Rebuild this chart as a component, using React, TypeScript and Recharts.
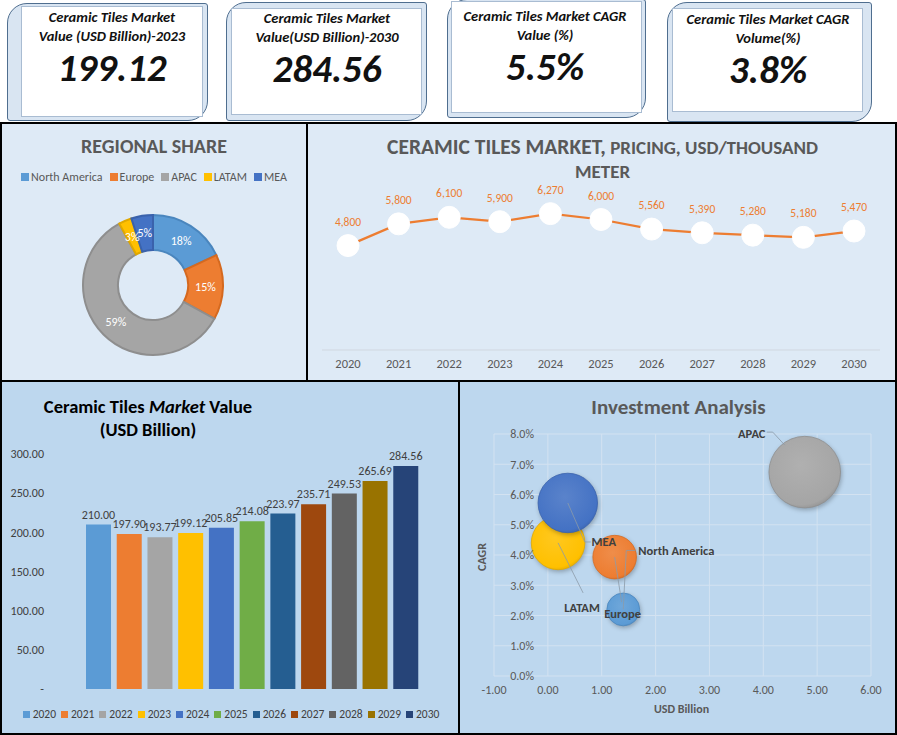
import React from 'react';
import {
  Bar,
  BarChart,
  CartesianGrid,
  Cell,
  LabelList,
  Line,
  LineChart,
  Pie,
  PieChart,
  Scatter,
  ScatterChart,
  XAxis,
  YAxis,
  ZAxis,
} from 'recharts';

// ---------------------------------------------------------------------------
// Data
// ---------------------------------------------------------------------------
const kpiTitles = [
  ['Ceramic Tiles Market', 'Value (USD Billion)-2023'],
  ['Ceramic Tiles Market', 'Value(USD Billion)-2030'],
  ['Ceramic Tiles Market  CAGR', 'Value (%)'],
  ['Ceramic Tiles Market CAGR', 'Volume(%)'],
];
const kpiValues = ['199.12', '284.56', '5.5%', '3.8%'];

const regions = ['North America', 'Europe', 'APAC', 'LATAM', 'MEA'];
const regionShare = [18, 15, 59, 3, 5];

const years = ['2020', '2021', '2022', '2023', '2024', '2025', '2026', '2027', '2028', '2029', '2030'];
const prices = [4800, 5800, 6100, 5900, 6270, 6000, 5560, 5390, 5280, 5180, 5470];
const marketValues = [210.0, 197.9, 193.77, 199.12, 205.85, 214.08, 223.97, 235.71, 249.53, 265.69, 284.56];

const valueTicks = [0, 50, 100, 150, 200, 250, 300];
const usdTicks = [-1, 0, 1, 2, 3, 4, 5, 6];
const cagrTicks = [0, 1, 2, 3, 4, 5, 6, 7, 8];

// investment bubbles, same region order as above
const bubbleUsd = [1.4, 1.24, 4.77, 0.19, 0.37];
const bubbleCagr = [2.2, 3.93, 6.74, 4.4, 5.72];
const bubbleSize = [21, 37, 100, 56, 69];

// ---------------------------------------------------------------------------
// Styling
// ---------------------------------------------------------------------------
const FONT = "Carlito, Calibri, Lato, 'Open Sans', sans-serif";
const REGION_COLORS = ['#5B9BD5', '#ED7D31', '#A5A5A5', '#FFC000', '#4472C4'];
const REGION_STROKES = ['#4A86BE', '#D5691F', '#8E8E8E', '#E0A800', '#3A62AC'];
const YEAR_COLORS = [
  '#5B9BD5', '#ED7D31', '#A5A5A5', '#FFC000', '#4472C4', '#70AD47',
  '#255E91', '#9E480E', '#636363', '#997300', '#264478',
];
const TITLE_GRAY = '#595959';
const TEXT_DARK = '#404040';
const TOP_BG = '#DEEAF6';
const BOTTOM_BG = '#BDD7EE';

// card boxes and text centres (page coordinates)
const CARDS = [
  { left: 7, top: 3, width: 201, height: 118, inner: [13, 2, 4, 3], cx: 112, ty: 8 },
  { left: 226, top: 2, width: 201, height: 119, inner: [4, 5, 4, 5], cx: 327, ty: 9 },
  { left: 447, top: -1, width: 199, height: 119, inner: [3, 1, 3, 4], cx: 545, ty: 7 },
  { left: 667, top: 2, width: 205, height: 120, inner: [4, 5, 8, 9], cx: 768, ty: 10 },
];

// bubble label offsets from the bubble centre, plus leader line points
const BUBBLE_LABELS: Record<string, { dx: number; dy: number; anchor: string; line: number[][] }> = {
  'North America': { dx: 15, dy: -59, anchor: 'start', line: [[0, 0], [3, -59], [12, -59]] },
  Europe: { dx: 8, dy: 56, anchor: 'middle', line: [[0, 0], [7, 45]] },
  APAC: { dx: -53, dy: -39, anchor: 'middle', line: [[-38, -40], [-32, -40], [-20, -27]] },
  LATAM: { dx: 24, dy: 65, anchor: 'middle', line: [[0, 0], [25, 50]] },
  MEA: { dx: 36, dy: 39, anchor: 'middle', line: [[0, 0], [17, 39], [23, 39]] },
};

const RAD = Math.PI / 180;

const withCommas = (v: number) => String(v).replace(/\B(?=(\d{3})+(?!\d))/g, ',');

function PieLabel(props: any) {
  const { cx, cy, midAngle, innerRadius, outerRadius, value } = props;
  const r = (innerRadius + outerRadius) / 2;
  const x = cx + r * Math.cos(-midAngle * RAD);
  const y = cy + r * Math.sin(-midAngle * RAD);
  return (
    <text x={x} y={y} fill="#fff" textAnchor="middle" dominantBaseline="central" fontSize={12} fontFamily={FONT}>
      {value}%
    </text>
  );
}

function BubbleShape(props: any) {
  const { cx, cy, index } = props;
  const r = props.width ? props.width / 2 : Math.sqrt((props.size || 64) / Math.PI);
  return (
    <circle
      cx={cx}
      cy={cy}
      r={r}
      fill={`url(#bubble-${index})`}
      stroke={REGION_STROKES[index]}
      strokeWidth={0.8}
      style={{ filter: 'drop-shadow(1px 2px 2px rgba(0,0,0,0.25))' }}
    />
  );
}

function BubbleLabel(props: any) {
  const { cx, cy, payload } = props;
  const spec = BUBBLE_LABELS[payload.name];
  const pts = spec.line.map(([x, y]) => `${cx + x},${cy + y}`).join(' ');
  return (
    <g>
      <polyline points={pts} fill="none" stroke="#8c9aa8" strokeWidth={0.8} />
      <text
        x={cx + spec.dx}
        y={cy + spec.dy}
        textAnchor={spec.anchor as any}
        dominantBaseline="central"
        fontSize={12.5}
        fontWeight={600}
        fill={TEXT_DARK}
        fontFamily={FONT}
      >
        {payload.name}
      </text>
    </g>
  );
}

function lighten(hex: string, amt: number) {
  const n = parseInt(hex.slice(1), 16);
  const ch = [(n >> 16) & 255, (n >> 8) & 255, n & 255].map((c) => Math.round(c + (255 - c) * amt));
  return `rgb(${ch[0]},${ch[1]},${ch[2]})`;
}

export default function App() {
  const pieData = regions.map((name, i) => ({ name, value: regionShare[i] }));
  const priceData = years.map((year, i) => ({ year, price: prices[i] }));
  const valueData = years.map((year, i) => ({ year, value: marketValues[i] }));
  const bubbleData = regions.map((name, i) => ({
    name,
    usd: bubbleUsd[i],
    cagr: bubbleCagr[i],
    size: bubbleSize[i],
  }));

  const abs = (s: React.CSSProperties): React.CSSProperties => ({ position: 'absolute', ...s });

  return (
    <div style={abs({ left: 0, top: 0, width: 897, height: 735, background: '#fff', overflow: 'hidden', fontFamily: FONT })}>
      {/* ---------------- KPI cards ---------------- */}
      {CARDS.map((c, i) => (
        <React.Fragment key={i}>
          <div
            style={abs({
              left: c.left,
              top: c.top,
              width: c.width,
              height: c.height,
              boxSizing: 'border-box',
              background: '#D9E5F2',
              border: '1px solid #4F6E8F',
              borderRadius: '20px 3px 20px 3px',
            })}
          >
            <div
              style={abs({
                left: c.inner[0],
                top: c.inner[1],
                right: c.inner[2],
                bottom: c.inner[3],
                background: '#fff',
                border: '1px solid #A9BCD2',
              })}
            />
          </div>
          <div style={abs({ left: c.cx - 110, top: c.ty, width: 220, textAlign: 'center', color: '#111', fontStyle: 'italic', fontWeight: 700 })}>
            <div style={{ fontSize: 14.5, lineHeight: '19px' }}>{kpiTitles[i][0]}</div>
            <div style={{ fontSize: 14.5, lineHeight: '19px' }}>{kpiTitles[i][1]}</div>
            <div style={{ fontSize: 39, lineHeight: '42px', marginTop: 1 }}>{kpiValues[i]}</div>
          </div>
        </React.Fragment>
      ))}

      {/* ---------------- panels ---------------- */}
      <div style={abs({ left: 0, top: 122, width: 308, height: 260, boxSizing: 'border-box', background: TOP_BG, border: '2px solid #000' })} />
      <div style={abs({ left: 307, top: 122, width: 590, height: 260, boxSizing: 'border-box', background: TOP_BG, border: '2px solid #000', borderLeft: '1px solid #000' })} />
      <div style={abs({ left: 0, top: 380, width: 460, height: 355, boxSizing: 'border-box', background: BOTTOM_BG, border: '2px solid #000' })} />
      <div style={abs({ left: 458, top: 380, width: 439, height: 355, boxSizing: 'border-box', background: BOTTOM_BG, border: '2px solid #000' })} />

      {/* ---------------- Regional share ---------------- */}
      <div style={abs({ left: 0, top: 134, width: 308, textAlign: 'center', fontSize: 20, fontWeight: 700, color: TITLE_GRAY, lineHeight: '24px' })}>
        REGIONAL SHARE
      </div>
      <div style={abs({ left: 0, top: 169, width: 308, display: 'flex', justifyContent: 'center', gap: 7, fontSize: 12, color: TITLE_GRAY, lineHeight: '16px' })}>
        {regions.map((r, i) => (
          <span key={r} style={{ display: 'flex', alignItems: 'center', gap: 2 }}>
            <span style={{ width: 8, height: 8, background: REGION_COLORS[i], display: 'inline-block' }} />
            {r}
          </span>
        ))}
      </div>
      <div style={abs({ left: 0, top: 124, width: 306, height: 256 })}>
        <PieChart width={306} height={256} margin={{ top: 0, right: 0, bottom: 0, left: 0 }}>
          <Pie
            data={pieData}
            dataKey="value"
            nameKey="name"
            cx={153}
            cy={161}
            innerRadius={35}
            outerRadius={70}
            startAngle={90}
            endAngle={-270}
            label={PieLabel}
            labelLine={false}
            isAnimationActive={false}
          >
            {pieData.map((d, i) => (
              <Cell key={d.name} fill={REGION_COLORS[i]} stroke={REGION_STROKES[i]} strokeWidth={2} />
            ))}
          </Pie>
        </PieChart>
      </div>

      {/* ---------------- Pricing ---------------- */}
      <div style={abs({ left: 308, top: 135, width: 589, textAlign: 'center', fontWeight: 700, color: TITLE_GRAY, lineHeight: '25px' })}>
        <div>
          <span style={{ fontSize: 21.5 }}>CERAMIC TILES MARKET,</span>
          <span style={{ fontSize: 19 }}> PRICING, USD/THOUSAND</span>
        </div>
        <div style={{ fontSize: 19, marginTop: -2 }}>METER</div>
      </div>
      <div style={abs({ left: 309, top: 124, width: 587, height: 256 })}>
        <LineChart width={587} height={256} data={priceData} margin={{ top: 52, right: 16, bottom: 5, left: 13 }}>
          <XAxis
            dataKey="year"
            padding={{ left: 26, right: 26 }}
            axisLine={{ stroke: '#D0D7E0' }}
            tickLine={false}
            tickMargin={3}
            height={25}
            tick={{ fill: TITLE_GRAY, fontSize: 12.5, fontFamily: FONT }}
            interval={0}
          />
          <YAxis hide domain={[0, 8000]} />
          <Line
            dataKey="price"
            stroke="#ED7D31"
            strokeWidth={2.25}
            dot={{ r: 11, fill: '#fff', stroke: '#fff', strokeWidth: 1 }}
            isAnimationActive={false}
          >
            <LabelList
              dataKey="price"
              position="top"
              offset={20}
              formatter={(v: any) => withCommas(v)}
              fill="#ED7D31"
              fontSize={11.5}
              fontFamily={FONT}
            />
          </Line>
        </LineChart>
      </div>

      {/* ---------------- Market value bars ---------------- */}
      <div style={abs({ left: 0, top: 395, width: 296, textAlign: 'center', fontSize: 18.5, fontWeight: 700, color: '#000', lineHeight: '23px' })}>
        <div>
          Ceramic Tiles <i>Market</i> Value
        </div>
        <div>(USD Billion)</div>
      </div>
      <div style={abs({ left: 0, top: 382, width: 458, height: 351 })}>
        <BarChart width={458} height={351} data={valueData} margin={{ top: 72, right: 37, bottom: 44, left: 0 }}>
          <XAxis dataKey="year" hide />
          <YAxis
            domain={[0, 300]}
            ticks={valueTicks}
            interval={0}
            width={83}
            axisLine={false}
            tickLine={false}
            tickMargin={33}
            tickFormatter={(v: number) => (v === 0 ? '-' : v.toFixed(2))}
            tick={{ fill: TEXT_DARK, fontSize: 12, fontFamily: FONT }}
          />
          <Bar dataKey="value" barSize={25} isAnimationActive={false}>
            {valueData.map((d, i) => (
              <Cell key={d.year} fill={YEAR_COLORS[i]} />
            ))}
            <LabelList
              dataKey="value"
              position="top"
              offset={6}
              formatter={(v: any) => Number(v).toFixed(2)}
              fill={TEXT_DARK}
              fontSize={12}
              fontFamily={FONT}
            />
          </Bar>
        </BarChart>
      </div>
      <div style={abs({ left: 0, top: 706, width: 462, display: 'flex', justifyContent: 'center', gap: 5, fontSize: 11.5, color: TEXT_DARK, lineHeight: '16px' })}>
        {years.map((y, i) => (
          <span key={y} style={{ display: 'flex', alignItems: 'center', gap: 3 }}>
            <span style={{ width: 7, height: 7, background: YEAR_COLORS[i], display: 'inline-block' }} />
            {y}
          </span>
        ))}
      </div>

      {/* ---------------- Investment bubbles ---------------- */}
      <div style={abs({ left: 460, top: 394, width: 437, textAlign: 'center', fontSize: 21, fontWeight: 700, color: TITLE_GRAY, lineHeight: '26px' })}>
        Investment Analysis
      </div>
      <div style={abs({ left: 460, top: 701, width: 437, textAlign: 'center', paddingLeft: 6, boxSizing: 'border-box', fontSize: 12, fontWeight: 700, color: TITLE_GRAY, lineHeight: '16px' })}>
        USD Billion
      </div>
      <div
        style={abs({
          left: 462,
          top: 549,
          width: 40,
          textAlign: 'center',
          fontSize: 12,
          fontWeight: 700,
          color: TITLE_GRAY,
          lineHeight: '16px',
          transform: 'rotate(-90deg)',
        })}
      >
        CAGR
      </div>
      <div style={abs({ left: 460, top: 383, width: 435, height: 350 })}>
        <ScatterChart width={435} height={350} margin={{ top: 51, right: 24, bottom: 27, left: 0 }}>
          <defs>
            {REGION_COLORS.map((c, i) => (
              <radialGradient key={c} id={`bubble-${i}`} cx="45%" cy="40%" r="65%">
                <stop offset="0%" stopColor={lighten(c, 0.12)} />
                <stop offset="85%" stopColor={c} />
                <stop offset="100%" stopColor={REGION_STROKES[i]} />
              </radialGradient>
            ))}
          </defs>
          <CartesianGrid stroke="#D3E2F1" strokeWidth={1} />
          <XAxis
            type="number"
            dataKey="usd"
            domain={[-1, 6]}
            ticks={usdTicks}
            interval={0}
            axisLine={false}
            tickLine={false}
            tickMargin={3}
            height={30}
            tickFormatter={(v: number) => v.toFixed(2)}
            tick={{ fill: TITLE_GRAY, fontSize: 12, fontFamily: FONT }}
          />
          <YAxis
            type="number"
            dataKey="cagr"
            domain={[0, 8]}
            ticks={cagrTicks}
            interval={0}
            width={34}
            axisLine={false}
            tickLine={false}
            tickMargin={-46}
            tickFormatter={(v: number) => `${v.toFixed(1)}%`}
            tick={{ fill: TITLE_GRAY, fontSize: 12, fontFamily: FONT }}
          />
          <ZAxis type="number" dataKey="size" domain={[0, 100]} range={[0, 4026]} />
          <Scatter data={bubbleData} shape={BubbleShape} isAnimationActive={false} />
          <Scatter data={bubbleData} shape={BubbleLabel} isAnimationActive={false} />
        </ScatterChart>
      </div>
    </div>
  );
}
